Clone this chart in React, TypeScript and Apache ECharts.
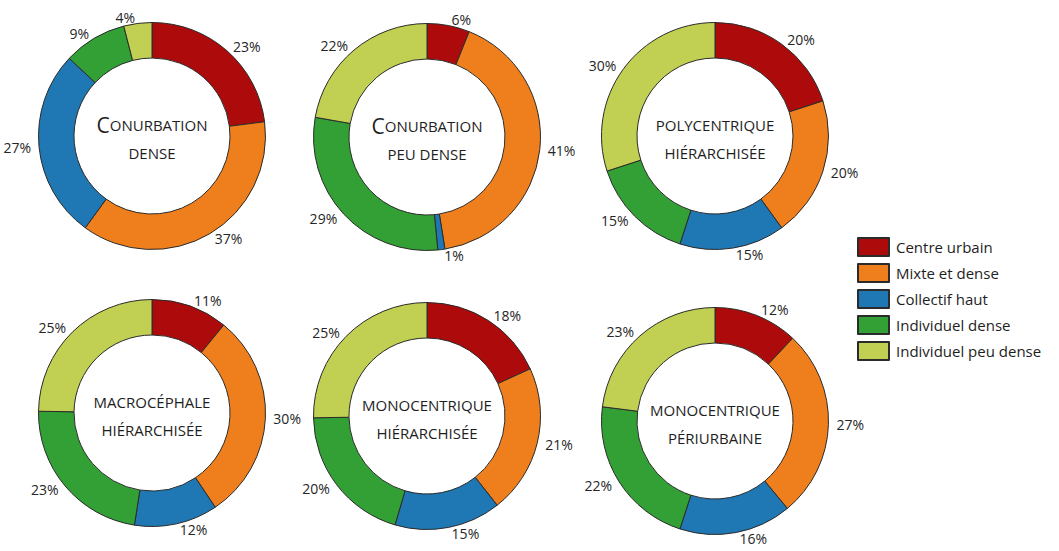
import React, { useEffect, useRef } from "react";
import * as echarts from "echarts";

const categories = ["Centre urbain", "Mixte et dense", "Collectif haut", "Individuel dense", "Individuel peu dense"];
const colors = ["#ad0b0b", "#ef7f1c", "#1f77b4", "#33a035", "#c1d052"];

const conurbationDense = [23, 37, 27, 9, 4];
const conurbationPeuDense = [6, 41, 1, 29, 22];
const polycentriqueHierarchisee = [20, 20, 15, 15, 30];
const macrocephaleHierarchisee = [11, 30, 12, 23, 25];
const monocentriqueHierarchisee = [18, 21, 15, 20, 25];
const monocentriquePeriurbaine = [12, 27, 16, 22, 23];

const titles = [
  "{big|C}{sm|ONURBATION}\n{sm|DENSE}",
  "{big|C}{sm|ONURBATION}\n{sm|PEU DENSE}",
  "{sm|POLYCENTRIQUE}\n{sm|HIÉRARCHISÉE}",
  "{sm|MACROCÉPHALE}\n{sm|HIÉRARCHISÉE}",
  "{sm|MONOCENTRIQUE}\n{sm|HIÉRARCHISÉE}",
  "{sm|MONOCENTRIQUE}\n{sm|PÉRIURBAINE}",
];

const seriesValues = [
  conurbationDense,
  conurbationPeuDense,
  polycentriqueHierarchisee,
  macrocephaleHierarchisee,
  monocentriqueHierarchisee,
  monocentriquePeriurbaine,
];

// layout: donut centres in px
const centers: [number, number][] = [
  [152, 136],
  [427, 137],
  [715, 136],
  [152, 413],
  [427, 416],
  [715, 421],
];

const FONT = "'Open Sans', sans-serif";

export default function App() {
  const ref = useRef<HTMLDivElement>(null);
  useEffect(() => {
    document.body.style.margin = "0";
    const chart = echarts.init(ref.current!, null, { renderer: "svg" });
    const series = seriesValues.map((vals, i) => ({
      type: "pie",
      center: centers[i],
      radius: [78, 113.5],
      startAngle: 90,
      clockwise: true,
      silent: true,
      avoidLabelOverlap: false,
      itemStyle: { borderColor: "#2b2b2b", borderWidth: 1 },
      label: {
        show: true,
        position: "outside",
        formatter: "{c}%",
        fontFamily: FONT,
        fontSize: 14,
        color: "#262626",
        distanceToLabelLine: 2,
      },
      labelLine: { show: false, length: 6, length2: 0 },
      emphasis: { disabled: true },
      data: categories.map((name, k) => ({ name, value: vals[k], itemStyle: { color: colors[k] } })),
    }));
    const graphic = titles.map((t, i) => ({
      type: "text",
      x: centers[i][0],
      y: centers[i][1] + 3,
      silent: true,
      style: {
        text: t,
        align: "center",
        verticalAlign: "middle",
        fill: "#1e1e1e",
        fontFamily: FONT,
        rich: {
          big: { fontSize: 21, fontFamily: FONT, fill: "#1e1e1e", lineHeight: 28 },
          sm: { fontSize: 15, fontFamily: FONT, fill: "#1e1e1e", lineHeight: 28 },
        },
      },
    }));
    chart.setOption({
      animation: false,
      color: colors,
      legend: {
        orient: "vertical",
        left: 852,
        top: 232,
        icon: "rect",
        itemWidth: 31,
        itemHeight: 18,
        itemGap: 6,
        selectedMode: false,
        data: categories,
        textStyle: { fontFamily: FONT, fontSize: 15, color: "#1e1e1e", padding: [0, 0, 0, 2] },
      },
      series,
      graphic,
    });
    return () => chart.dispose();
  }, []);
  return <div ref={ref} style={{ width: 1059, height: 551 }} />;
}
